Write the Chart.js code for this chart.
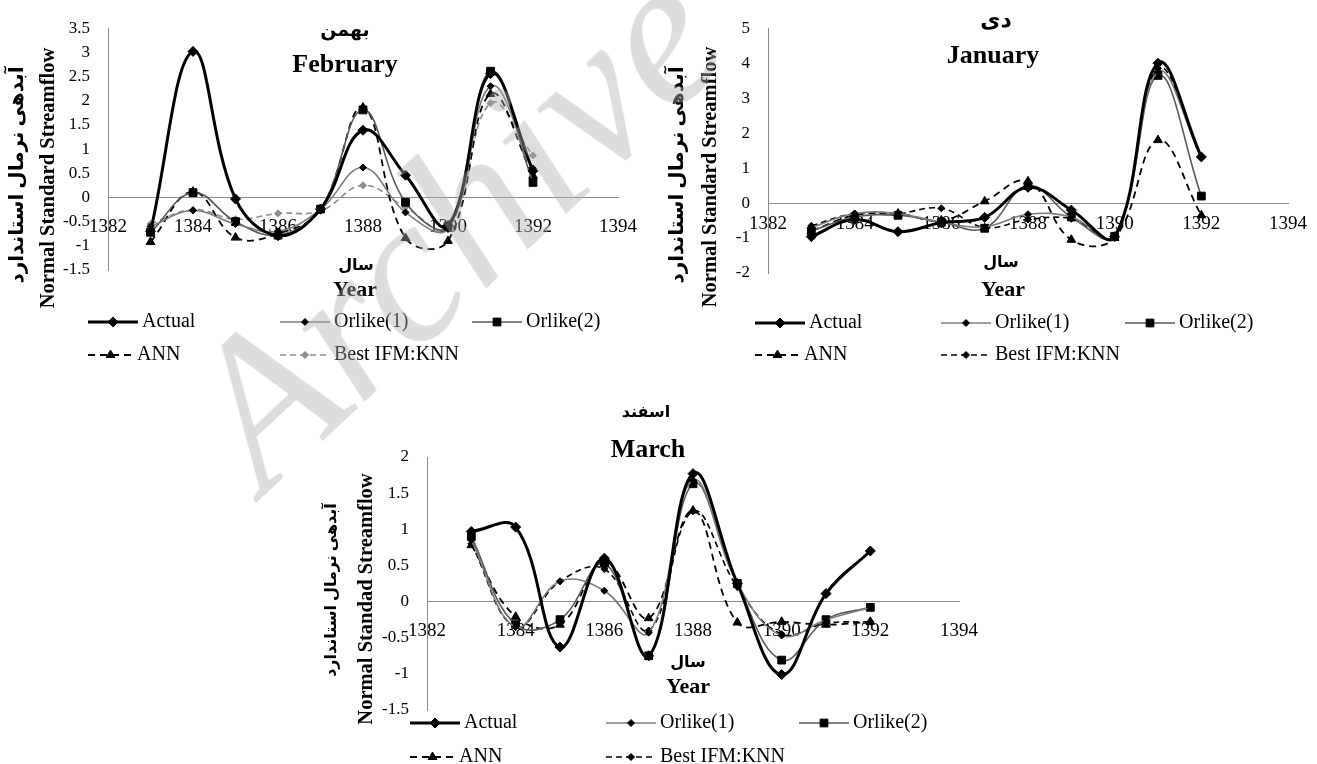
<!DOCTYPE html>
<html>
<head>
<meta charset="utf-8">
<script src="https://cdn.jsdelivr.net/npm/chart.js@4.4.1/dist/chart.umd.min.js"></script>
<style>
html, body { margin:0; padding:0; background:#fff; width:1317px; height:764px; overflow:hidden; }
canvas { position:absolute; }
#mark { position:absolute; left:130px; top:120px; width:640px; text-align:center;
  font: italic 210px 'Liberation Serif', serif; color: rgba(175,175,175,0.42);
  transform: rotate(-43deg); transform-origin: center; z-index:5; pointer-events:none; white-space:nowrap; line-height:1; }
</style>
</head>
<body>
<canvas id="febChart" width="655" height="380" style="left:0px;top:0px"></canvas>
<canvas id="janChart" width="657" height="380" style="left:660px;top:0px"></canvas>
<canvas id="marChart" width="700" height="384" style="left:300px;top:380px"></canvas>
<div id="mark">Archive</div>
<script>
// DATA
const years = [1383, 1384, 1385, 1386, 1387, 1388, 1389, 1390, 1391, 1392]
const xTicks = [1382, 1384, 1386, 1388, 1390, 1392, 1394]
const seriesNames = ['Actual', 'Orlike(1)', 'Orlike(2)', 'ANN', 'Best IFM:KNN']

// بهمن - February
const febActual  = [-0.70, 3.02, -0.03, -0.79, -0.24, 1.39, 0.46, -0.58, 2.56, 0.55]
const febOrlike1 = [-0.60, -0.27, -0.55, -0.70, -0.25, 0.62, -0.31, -0.65, 2.30, 0.60]
const febOrlike2 = [-0.72, 0.10, -0.50, -0.78, -0.24, 1.81, -0.10, -0.60, 2.61, 0.31]
const febANN     = [-0.92, 0.12, -0.83, -0.75, -0.25, 1.86, -0.84, -0.90, 2.14, 0.45]
const febKNN     = [-0.55, -0.25, -0.45, -0.33, -0.28, 0.25, -0.20, -0.65, 1.95, 0.87]
const febYTicks  = [-1.5, -1, -0.5, 0, 0.5, 1, 1.5, 2, 2.5, 3, 3.5]

// دی - January
const janActual  = [-0.96, -0.47, -0.82, -0.56, -0.41, 0.45, -0.20, -0.96, 4.00, 1.32]
const janOrlike1 = [-0.70, -0.30, -0.30, -0.55, -0.68, -0.32, -0.40, -0.95, 3.75, 1.30]
const janOrlike2 = [-0.80, -0.40, -0.35, -0.55, -0.72, 0.50, -0.40, -0.95, 3.65, 0.20]
const janANN     = [-0.80, -0.35, -0.30, -0.50, 0.05, 0.62, -1.05, -1.00, 1.80, -0.35]
const janKNN     = [-0.65, -0.30, -0.30, -0.15, -0.70, -0.47, -0.45, -0.95, 3.85, 1.30]
const janYTicks  = [-2, -1, 0, 1, 2, 3, 4, 5]

// اسفند - March
const marActual  = [0.97, 1.03, -0.63, 0.60, -0.75, 1.77, 0.25, -1.01, 0.11, 0.70]
const marOrlike1 = [0.85, -0.35, 0.28, 0.15, -0.43, 1.68, 0.25, -0.47, -0.25, -0.08]
const marOrlike2 = [0.90, -0.32, -0.25, 0.53, -0.75, 1.63, 0.25, -0.81, -0.25, -0.08]
const marANN     = [0.78, -0.21, -0.32, 0.55, -0.23, 1.26, -0.29, -0.28, -0.32, -0.28]
const marKNN     = [0.80, -0.35, 0.28, 0.45, -0.40, 1.25, 0.20, -0.45, -0.30, -0.28]
const marYTicks  = [-1.5, -1, -0.5, 0, 0.5, 1, 1.5, 2]

const serif = "'Liberation Serif', 'DejaVu Sans', serif"
Chart.defaults.font.family = serif
Chart.defaults.color = '#000'

// series looks (Excel style)
function seriesStyle(i, knnColor) {
	const looks = [
		{ borderColor: '#000', borderWidth: 3, pointStyle: 'rectRot', pointRadius: 5, pointBackgroundColor: '#000', pointBorderColor: '#000', borderDash: [] },
		{ borderColor: '#7c7c7c', borderWidth: 1.6, pointStyle: 'rectRot', pointRadius: 3.5, pointBackgroundColor: '#000', pointBorderColor: '#000', borderDash: [] },
		{ borderColor: '#595959', borderWidth: 1.6, pointStyle: 'rect', pointRadius: 5.5, pointBackgroundColor: '#000', pointBorderColor: '#000', borderDash: [] },
		{ borderColor: '#000', borderWidth: 1.8, pointStyle: 'triangle', pointRadius: 5, pointBackgroundColor: '#000', pointBorderColor: '#000', borderDash: [7, 5] },
		{ borderColor: knnColor, borderWidth: 1.6, pointStyle: 'rectRot', pointRadius: 3.5, pointBackgroundColor: knnColor, pointBorderColor: knnColor, borderDash: [6, 4] }
	]
	return looks[i]
}

function makeDatasets(series, knnColor) {
	return series.map((vals, i) => Object.assign({
		label: seriesNames[i],
		data: years.map((y, k) => ({ x: y, y: vals[k] })),
		tension: 0.4,
		pointBorderWidth: 1,
		fill: false
	}, seriesStyle(i, knnColor)))
}

// plugin that writes the titles, axis titles and the Excel-like legend
const decoPlugin = {
	id: 'deco',
	afterDraw(chart, args, opts) {
		const ctx = chart.ctx
		const ox = opts.origin[0], oy = opts.origin[1]
		ctx.save()
		ctx.fillStyle = '#000'
		ctx.textAlign = 'center'
		ctx.textBaseline = 'middle'
		opts.texts.forEach(t => {
			ctx.save()
			ctx.font = t.font
			ctx.translate(t.x - ox, t.y - oy)
			if (t.rot) ctx.rotate(t.rot)
			ctx.fillText(t.text, 0, 0)
			ctx.restore()
		})
		opts.legend.forEach(it => {
			const ds = chart.data.datasets[it.index]
			const x = it.x - ox, y = it.y - oy
			ctx.save()
			ctx.strokeStyle = ds.borderColor
			ctx.lineWidth = ds.borderWidth
			ctx.setLineDash(ds.borderDash)
			ctx.beginPath()
			ctx.moveTo(x, y)
			ctx.lineTo(x + it.len, y)
			ctx.stroke()
			ctx.setLineDash([])
			ctx.fillStyle = ds.pointBackgroundColor
			ctx.strokeStyle = ds.pointBorderColor
			ctx.lineWidth = 1
			Chart.helpers.drawPoint(ctx, { pointStyle: ds.pointStyle, radius: ds.pointRadius, rotation: 0, borderWidth: 1 }, x + it.len / 2, y)
			ctx.fillStyle = '#000'
			ctx.font = '20px ' + serif
			ctx.textAlign = 'left'
			ctx.textBaseline = 'middle'
			ctx.fillText(ds.label, x + it.len + 4, y)
			ctx.restore()
		})
		ctx.restore()
	}
}

function legendRows(x1, x2, x3, y1, y2) {
	return [
		{ index: 0, x: x1, y: y1, len: 50 },
		{ index: 1, x: x2, y: y1, len: 50 },
		{ index: 2, x: x3, y: y1, len: 50 },
		{ index: 3, x: x1, y: y2, len: 45 },
		{ index: 4, x: x2, y: y2, len: 50 }
	]
}

function makeChart(id, series, knnColor, yTicks, pad, yWidth, xPad, deco) {
	const yMin = yTicks[0], yMax = yTicks[yTicks.length - 1]
	return new Chart(document.getElementById(id), {
		type: 'line',
		data: { datasets: makeDatasets(series, knnColor) },
		options: {
			responsive: false,
			animation: false,
			layout: { padding: pad },
			scales: {
				x: {
					type: 'linear',
					position: { y: 0 },
					min: xTicks[0],
					max: xTicks[xTicks.length - 1],
					afterBuildTicks: s => { s.ticks = xTicks.map(v => ({ value: v })) },
					grid: { display: false, drawTicks: false },
					border: { display: true, color: '#8a8a8a', width: 1 },
					ticks: { padding: xPad, font: { size: 19 }, color: '#000', callback: v => String(v), autoSkip: false, maxRotation: 0 }
				},
				y: {
					min: yMin,
					max: yMax,
					afterBuildTicks: s => { s.ticks = yTicks.map(v => ({ value: v })) },
					afterFit: s => { s.width = yWidth },
					grid: { display: false, drawTicks: false },
					border: { display: true, color: '#8a8a8a', width: 1 },
					ticks: { padding: 18, font: { size: 17 }, color: '#000', callback: v => String(v) }
				}
			},
			plugins: {
				legend: { display: false },
				tooltip: { enabled: false },
				deco: deco
			}
		},
		plugins: [decoPlugin]
	})
}

const vert = -Math.PI / 2
const yTitleFa = 'آبدهی نرمال استاندارد'

// February
makeChart('febChart', [febActual, febOrlike1, febOrlike2, febANN, febKNN], '#8c8c8c', febYTicks,
	{ left: 0, top: 26, right: 28, bottom: 110 }, 108, 18, {
	origin: [0, 0],
	texts: [
		{ text: 'بهمن', x: 345, y: 31, font: 'bold 19px ' + serif },
		{ text: 'February', x: 345, y: 65, font: 'bold 26px ' + serif },
		{ text: 'سال', x: 356, y: 266, font: 'bold 16px ' + serif },
		{ text: 'Year', x: 355, y: 290, font: 'bold 22px ' + serif },
		{ text: yTitleFa, x: 18, y: 175, rot: vert, font: 'bold 20px ' + serif },
		{ text: 'Normal Standard Streamflow', x: 49, y: 178, rot: vert, font: 'bold 20.5px ' + serif }
	],
	legend: legendRows(88, 280, 472, 322, 355)
})

// January
makeChart('janChart', [janActual, janOrlike1, janOrlike2, janANN, janKNN], '#000', janYTicks,
	{ left: 0, top: 25, right: 20, bottom: 107 }, 108, 10, {
	origin: [660, 0],
	texts: [
		{ text: 'دی', x: 996, y: 21, font: 'bold 22px ' + serif },
		{ text: 'January', x: 993, y: 56, font: 'bold 26px ' + serif },
		{ text: 'سال', x: 1001, y: 263, font: 'bold 16px ' + serif },
		{ text: 'Year', x: 1003, y: 290, font: 'bold 22px ' + serif },
		{ text: yTitleFa, x: 678, y: 175, rot: vert, font: 'bold 20px ' + serif },
		{ text: 'Normal Standard Streamflow', x: 711, y: 177, rot: vert, font: 'bold 20.5px ' + serif }
	],
	legend: legendRows(755, 941, 1125, 323, 355)
})

// March
makeChart('marChart', [marActual, marOrlike1, marOrlike2, marANN, marKNN], '#000', marYTicks,
	{ left: 0, top: 77, right: 41, bottom: 54 }, 127, 18, {
	origin: [300, 380],
	texts: [
		{ text: 'اسفند', x: 646, y: 413, font: 'bold 16px ' + serif },
		{ text: 'March', x: 648, y: 450, font: 'bold 26px ' + serif },
		{ text: 'سال', x: 688, y: 663, font: 'bold 16px ' + serif },
		{ text: 'Year', x: 688, y: 687, font: 'bold 22px ' + serif },
		{ text: yTitleFa, x: 332, y: 590, rot: vert, font: 'bold 16px ' + serif },
		{ text: 'Normal Standad Streamflow', x: 367, y: 599, rot: vert, font: 'bold 20.5px ' + serif }
	],
	legend: legendRows(410, 606, 799, 723, 757)
})
</script>
</body>
</html>
